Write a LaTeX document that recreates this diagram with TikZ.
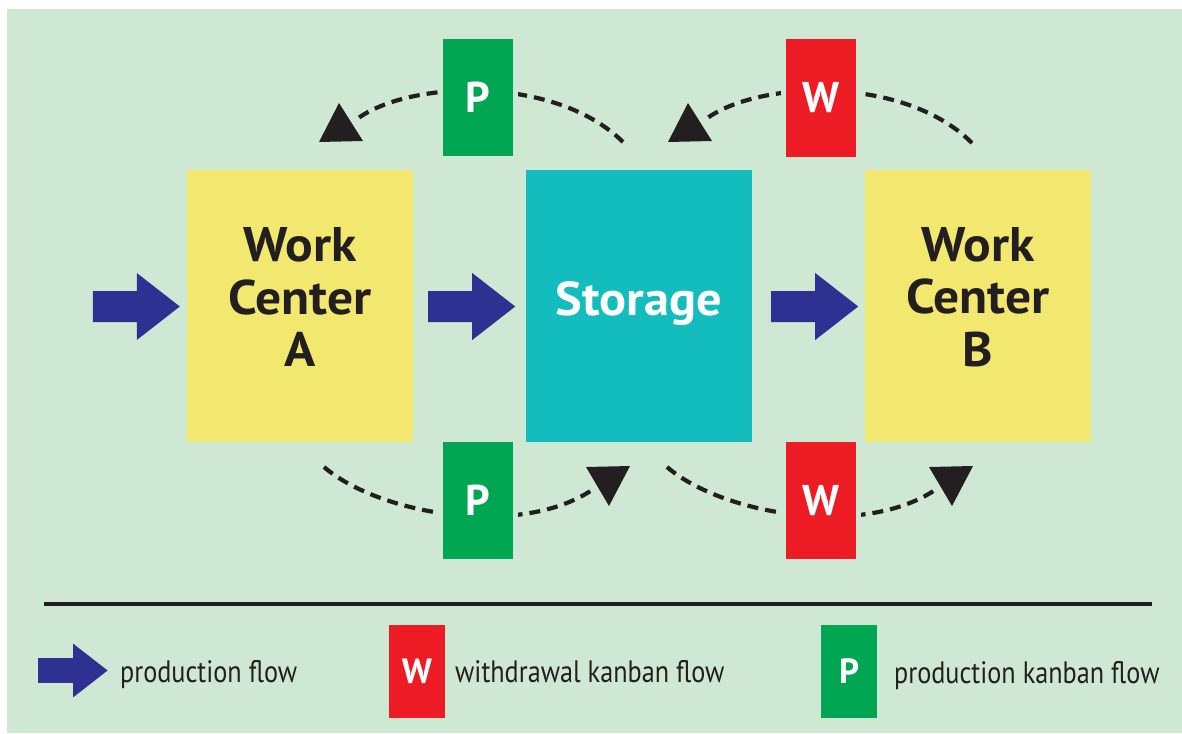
\documentclass[tikz,border=0pt]{standalone}
\usepackage{fontspec}
\setmainfont{PT Sans}
\newfontfamily\boxfont{PT Sans}[FakeStretch=1.06]
\newfontfamily\legendfont{PT Sans}[FakeStretch=0.846]
\usetikzlibrary{calc}

\definecolor{bgc}{HTML}{CFE8D4}
\definecolor{wcyellow}{HTML}{F2E86F}
\definecolor{storeteal}{HTML}{13BDBD}
\definecolor{pgreen}{HTML}{00A651}
\definecolor{wred}{HTML}{ED1C24}
\definecolor{flowblue}{HTML}{2E3192}
\definecolor{ink}{HTML}{231F20}

\begin{document}
\begin{tikzpicture}[x=1pt,y=-1pt,
  box/.style={minimum width=226pt, minimum height=272pt, inner sep=0pt, draw=none},
  boxtext/.style={font=\boxfont\fontsize{48.6}{52.5}\selectfont\bfseries, text=ink, align=center, inner sep=0pt},
  card/.style={minimum width=70pt, minimum height=117pt, inner sep=0pt, text=white,
    font=\fontsize{43}{43}\selectfont\bfseries, text height=30pt, text depth=0pt,
    preaction={draw=bgc, line width=10pt}},
  legendcard/.style={minimum width=56pt, minimum height=93pt, inner sep=0pt, text=white,
    font=\fontsize{35}{35}\selectfont\bfseries, text height=24.5pt, text depth=0pt},
  legendtext/.style={font=\legendfont\fontsize{31}{31}\selectfont, text=ink, inner sep=0pt, anchor=base west},
  kanbanhead/.style={fill=ink, draw=none},
  kanbanflow/.style={draw=ink, line width=4.2pt, dash pattern=on 11pt off 7pt},
  flowarrow/.pic={\fill[flowblue] (0,-15.5) -- (44,-15.5) -- (44,-33.5) -- (87,0)
    -- (44,33.5) -- (44,15.5) -- (0,15.5) -- cycle;}
]
\useasboundingbox (0,0) rectangle (1182,733);
\fill[white] (0,0) rectangle (1182,733);
\fill[bgc] (7,9) rectangle (1182,733);

% work centres and storage
\node[box, fill=wcyellow] (wcA) at (300,306) {};
\node[box, fill=storeteal] (store) at (639,306) {};
\node[box, fill=wcyellow] (wcB) at (978,306) {};
\node[boxtext] (wcA-label) at (300,297) {Work\\Center\\A};
\node[boxtext] (wcB-label) at (978,297) {Work\\Center\\B};
\node[font=\boxfont\fontsize{47.5}{47.5}\selectfont\bfseries, text=white, inner sep=0pt, anchor=base]
  (store-label) at (639,315) {Storage};

% production flow
\pic at ($(wcA.west)+(-94,0.5)$) {flowarrow};
\pic at ($(wcA.east)+(15,0.5)$) {flowarrow};
\pic at ($(store.east)+(19,0.5)$) {flowarrow};

% ends of the kanban loops
\coordinate (tlS) at (623,142);
\coordinate (tlE) at (357,119);
\coordinate (trS) at (972,143);
\coordinate (trE) at (706,119);
\coordinate (blS) at (324,467);
\coordinate (blE) at (592,490);
\coordinate (brS) at (667,467);
\coordinate (brE) at (935,490);

\draw[kanbanflow] (tlS) .. controls (555,75) and (410,80) .. (tlE);
\draw[kanbanflow] (trS) .. controls (904,75) and (759,80) .. (trE);
\draw[kanbanflow] (blS) .. controls (380,515) and (520,538) .. (blE);
\draw[kanbanflow] (brS) .. controls (723,515) and (863,538) .. (brE);

% upright heads at the loop ends
\fill[kanbanhead] (339,103) -- (363,141) -- (319,142) -- cycle;
\fill[kanbanhead] (688,103) -- (712,141) -- (668,142) -- cycle;
\fill[kanbanhead] (586,467) -- (630,466) -- (609,506) -- cycle;
\fill[kanbanhead] (929,467) -- (973,466) -- (952,506) -- cycle;

% kanban cards
\node[card, fill=pgreen] (pTop) at (478,97.5) {P};
\node[card, fill=wred] (wTop) at (821,98) {W};
\node[card, fill=pgreen] (pBot) at (478,500.5) {P};
\node[card, fill=wred] (wBot) at (821,500.5) {W};

% legend
\coordinate (rule-l) at (44,604);
\coordinate (rule-r) at (1152,604);
\draw[ink, line width=3.5pt] (rule-l) -- (rule-r);

\pic[scale=0.8] at (38,670.5) {flowarrow};
\node[legendtext] (legF-text) at (120,682) {production flow};
\node[legendcard, fill=wred] (legW) at (417,671.5) {W};
\node[legendtext] (legW-text) at (455,682) {withdrawal kanban flow};
\node[legendcard, fill=pgreen] (legP) at (849,671.5) {P};
\node[legendtext] (legP-text) at (894,683) {production kanban flow};
\end{tikzpicture}
\end{document}
